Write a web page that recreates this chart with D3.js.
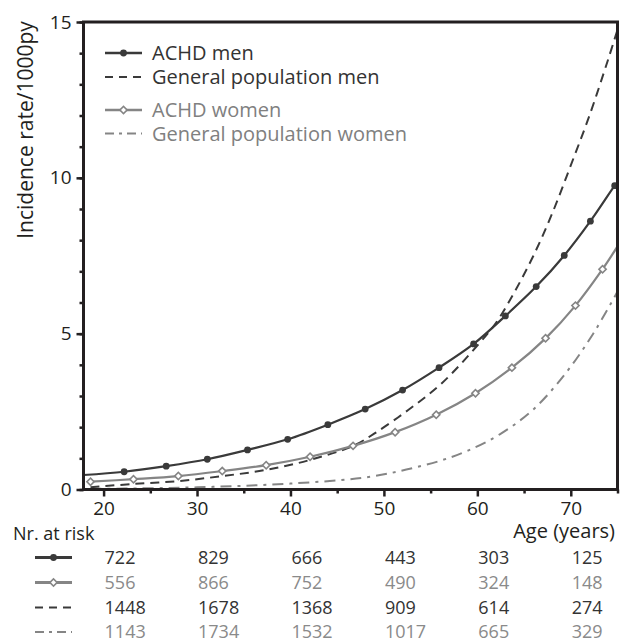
<!DOCTYPE html>
<html>
<head>
<meta charset="utf-8">
<script src="https://cdn.jsdelivr.net/npm/d3@7"></script>
<style>
  body { margin: 0; background: #fff; }
  svg { display: block; font-family: "Open Sans", sans-serif; }
</style>
</head>
<body>
<svg id="chart" width="626" height="643"></svg>
<script>
// --- data ---
const xMajor = [20, 30, 40, 50, 60, 70];
const xMinor = [25, 35, 45, 55, 65, 75];
const yMajor = [0, 5, 10, 15];
const yMinor = d3.range(0, 16);

// ACHD men: marker points, plus where the line enters / leaves the frame
const menMarkerAges = [22.2, 26.7, 31.1, 35.4, 39.7, 44.0, 48.0, 52.0, 55.9, 59.6, 63.0, 66.3, 69.3, 72.1, 74.7];
const menMarkerRates = [0.57, 0.75, 0.97, 1.27, 1.61, 2.08, 2.58, 3.19, 3.91, 4.67, 5.57, 6.51, 7.51, 8.61, 9.75];
const menStart = [17.85, 0.465];
const menEnd = [75, 9.86];

// ACHD women
const womenMarkerAges = [18.6, 23.2, 28.0, 32.7, 37.4, 42.1, 46.7, 51.2, 55.6, 59.8, 63.7, 67.3, 70.5, 73.4];
const womenMarkerRates = [0.25, 0.33, 0.43, 0.59, 0.78, 1.05, 1.40, 1.84, 2.40, 3.09, 3.91, 4.85, 5.90, 7.07];
const womenEnd = [75, 7.80];

// general population men (dashed)
const genMenAges = [18.6, 23.2, 28.0, 32.7, 37.4, 42.1, 46.7, 49.0, 52.6, 56.2, 60.0, 62.0, 64.0, 66.0, 68.0, 70.0, 72.0, 74.0, 75];
const genMenRates = [0.07, 0.18, 0.27, 0.43, 0.63, 0.95, 1.40, 1.80, 2.55, 3.41, 4.62, 5.35, 6.35, 7.5, 8.85, 10.4, 12.0, 13.8, 14.75];

// general population women (dash-dot)
const genWomenAges = [18.6, 25, 30, 35, 40, 45.3, 49.0, 52.4, 56.0, 59.0, 62.4, 66.0, 69.5, 72.4, 75];
const genWomenRates = [0.02, 0.04, 0.07, 0.12, 0.19, 0.30, 0.43, 0.64, 0.92, 1.25, 1.77, 2.57, 3.75, 5.0, 6.35];

// numbers at risk
const riskAges = [20, 30, 40, 50, 60, 70];
const riskMen = [722, 829, 666, 443, 303, 125];
const riskWomen = [556, 866, 752, 490, 324, 148];
const riskGenMen = [1448, 1678, 1368, 909, 614, 274];
const riskGenWomen = [1143, 1734, 1532, 1017, 665, 329];

const legendLabels = ["ACHD men", "General population men", "ACHD women", "General population women"];

// --- styles ---
const dark = "#3a3a3a";
const grey = "#858585";
const axisCol = "#231f20";
const dashMen = "9,6";
const dashWomen = "11,6,3,6";

const svg = d3.select("#chart");

const x = d3.scaleLinear().domain([17.85, 75]).range([83.5, 617.5]);
const y = d3.scaleLinear().domain([0, 15]).range([489.5, 22]);

const zip = (a, b) => a.map((v, i) => [v, b[i]]);

const line = d3.line()
    .x(d => x(d[0]))
    .y(d => y(d[1]))
    .curve(d3.curveCatmullRom.alpha(0.5));

svg.append("clipPath").attr("id", "plot-clip")
    .append("rect")
    .attr("x", x.range()[0]).attr("y", y.range()[1])
    .attr("width", x.range()[1] - x.range()[0])
    .attr("height", y.range()[0] - y.range()[1]);

const plot = svg.append("g").attr("clip-path", "url(#plot-clip)");

const menPts = [menStart, ...zip(menMarkerAges, menMarkerRates), menEnd];
const womenPts = [...zip(womenMarkerAges, womenMarkerRates), womenEnd];

plot.append("path").datum(zip(genWomenAges, genWomenRates))
    .attr("d", line).attr("fill", "none")
    .attr("stroke", grey).attr("stroke-width", 2).attr("stroke-dasharray", dashWomen);
plot.append("path").datum(zip(genMenAges, genMenRates))
    .attr("d", line).attr("fill", "none")
    .attr("stroke", dark).attr("stroke-width", 2).attr("stroke-dasharray", dashMen);
plot.append("path").datum(womenPts)
    .attr("d", line).attr("fill", "none")
    .attr("stroke", grey).attr("stroke-width", 2.2);
plot.append("path").datum(menPts)
    .attr("d", line).attr("fill", "none")
    .attr("stroke", dark).attr("stroke-width", 2.2);

const diamond = d3.symbol().type(d3.symbolSquare).size(26)();

function drawDiamond(g, cx, cy) {
    g.append("path")
        .attr("d", diamond)
        .attr("transform", `translate(${cx},${cy}) rotate(45)`)
        .attr("fill", "#fff").attr("stroke", grey).attr("stroke-width", 1.6);
}
function drawDot(g, cx, cy) {
    g.append("circle").attr("cx", cx).attr("cy", cy).attr("r", 3.4).attr("fill", dark);
}

zip(womenMarkerAges, womenMarkerRates).forEach(d => drawDiamond(svg, x(d[0]), y(d[1])));
zip(menMarkerAges, menMarkerRates).forEach(d => drawDot(svg, x(d[0]), y(d[1])));

// --- axes ---
function styleAxis(g) {
    g.select(".domain").remove();
    g.selectAll(".tick line").attr("stroke", axisCol).attr("stroke-width", 2.5);
    g.selectAll(".tick text").attr("fill", axisCol).style("font-size", "19px")
        .style("font-family", "'Open Sans', sans-serif");
}

svg.append("g").attr("transform", `translate(${x.range()[0]},0)`)
    .call(d3.axisLeft(y).tickValues(yMinor).tickSize(4).tickFormat(""))
    .call(styleAxis);
svg.append("g").attr("transform", `translate(${x.range()[0]},0)`)
    .call(d3.axisLeft(y).tickValues(yMajor).tickSize(7).tickPadding(5))
    .call(styleAxis);
svg.append("g").attr("transform", `translate(0,${y.range()[0]})`)
    .call(d3.axisBottom(x).tickValues(xMinor).tickSize(4).tickFormat(""))
    .call(styleAxis);
svg.append("g").attr("transform", `translate(0,${y.range()[0]})`)
    .call(d3.axisBottom(x).tickValues(xMajor).tickSize(7).tickPadding(5))
    .call(styleAxis);

// frame
svg.append("rect")
    .attr("x", x.range()[0]).attr("y", y.range()[1])
    .attr("width", x.range()[1] - x.range()[0])
    .attr("height", y.range()[0] - y.range()[1])
    .attr("fill", "none").attr("stroke", axisCol).attr("stroke-width", 3);

// axis titles
svg.append("text")
    .attr("transform", "translate(33,130) rotate(-90)")
    .attr("text-anchor", "middle")
    .attr("fill", axisCol).style("font-size", "21px")
    .text("Incidence rate/1000py");

svg.append("text")
    .attr("x", 615).attr("y", 538)
    .attr("text-anchor", "end")
    .attr("fill", axisCol).style("font-size", "20px")
    .text("Age (years)");

// --- legend ---
const keyStyles = [
    {col: dark, dash: "8,6", mark: drawDot, dashed: false},
    {col: dark, dash: "8,6", mark: null, dashed: true},
    {col: grey, dash: null, mark: drawDiamond, dashed: false},
    {col: grey, dash: "9,5,3,5", mark: null, dashed: true}
];

function drawKey(g, k, x0, x1, cy, w) {
    const s = keyStyles[k];
    g.append("line")
        .attr("x1", x0).attr("x2", x1).attr("y1", cy).attr("y2", cy)
        .attr("stroke", s.col).attr("stroke-width", w)
        .attr("stroke-dasharray", s.dashed ? s.dash : null);
    if (s.mark) s.mark(g, (x0 + x1) / 2, cy);
}

const legendY = [53, 77, 110, 133.5];
legendLabels.forEach((lab, i) => {
    drawKey(svg, i, 105, 142, legendY[i], i % 2 === 0 ? 2.6 : 2);
    svg.append("text")
        .attr("x", 152).attr("y", legendY[i] + 7)
        .attr("fill", keyStyles[i].col === dark ? "#333" : "#808080")
        .style("font-size", "20px")
        .text(lab);
});

// --- numbers at risk ---
svg.append("text")
    .attr("x", 13).attr("y", 540)
    .attr("fill", axisCol).style("font-size", "18px")
    .text("Nr. at risk");

const riskRows = [riskMen, riskWomen, riskGenMen, riskGenWomen];
const rowKeys = [0, 2, 1, 3];
const rowY = [557.5, 582.5, 607.5, 632];
riskRows.forEach((row, i) => {
    const k = rowKeys[i];
    drawKey(svg, k, 35, 72, rowY[i], i < 2 ? 3 : 2);
    svg.selectAll(null).data(row).enter().append("text")
        .attr("x", (d, j) => x(riskAges[j]) + 1)
        .attr("y", rowY[i] + 6.3)
        .attr("fill", keyStyles[k].col === dark ? "#333" : "#8a8a8a")
        .style("font-size", "18px")
        .text(d => d);
});
</script>
</body>
</html>
